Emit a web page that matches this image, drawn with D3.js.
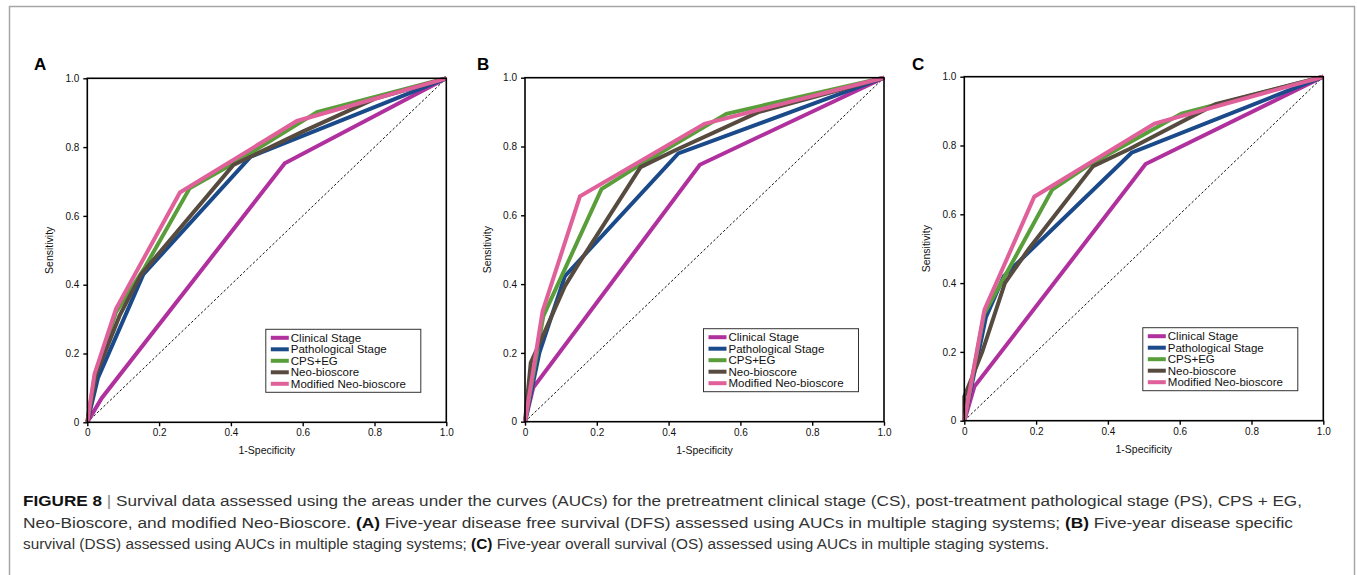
<!DOCTYPE html>
<meta charset="utf-8">
<style>
  body, html { margin:0; padding:0; background:#fff; }
  text { font-family: Arial, "Liberation Sans", Helvetica, sans-serif; }
  .tick text { font-size: 10px; fill:#111; }
  .caption { font-family: "Liberation Sans Narrow", "Arial Narrow", Arial, sans-serif; font-size: 14px; fill:#333; }
</style>
<body>
<svg id="fig" width="1357" height="575"></svg>
<script src="https://d3js.org/d3.v7.min.js"></script>
<script>
var svg = d3.select("#fig");

// series names and colours
var seriesNames = ["Clinical Stage", "Pathological Stage", "CPS+EG", "Neo-bioscore", "Modified Neo-bioscore"];
var seriesColors = ["#b0309e", "#1b4a8a", "#5a9e3b", "#574b40", "#e0609a"];
var tickValues = [0, 0.2, 0.4, 0.6, 0.8, 1.0];
var tickLabels = ["0", "0.2", "0.4", "0.6", "0.8", "1.0"];
var panelLabels = ["A", "B", "C"];

// panel A - five-year DFS  [1-specificity, sensitivity]
var dfsClinical = [[0,0],[0.04,0.07],[0.55,0.753],[1,1]];
var dfsPatho    = [[0,0],[0.03,0.13],[0.156,0.43],[0.455,0.772],[1,1]];
var dfsCps      = [[0,0],[0.02,0.13],[0.08,0.32],[0.16,0.45],[0.285,0.68],[0.42,0.76],[0.64,0.902],[1,1]];
var dfsNeo      = [[0,0],[0.025,0.14],[0.09,0.31],[0.15,0.43],[0.407,0.748],[0.6,0.845],[0.8,0.94],[1,1]];
var dfsMod      = [[0,0],[0.02,0.14],[0.08,0.33],[0.258,0.668],[0.584,0.876],[1,1]];

// panel B - five-year DSS
var dssClinical = [[0,0],[0.023,0.099],[0.487,0.747],[1,1]];
var dssPatho    = [[0,0],[0.04,0.2],[0.111,0.423],[0.427,0.78],[1,1]];
var dssCps      = [[0,0],[0.051,0.307],[0.213,0.676],[0.31,0.74],[0.561,0.895],[1,1]];
var dssNeo      = [[0,0],[0.016,0.171],[0.05,0.25],[0.111,0.394],[0.15,0.46],[0.322,0.74],[0.42,0.79],[0.65,0.9],[1,1]];
var dssMod      = [[0,0],[0.049,0.321],[0.153,0.655],[0.5,0.866],[1,1]];

// panel C - five-year OS
var osClinical = [[0,0],[0.028,0.099],[0.505,0.746],[1,1]];
var osPatho    = [[0,0],[0.06,0.3],[0.11,0.42],[0.466,0.779],[1,1]];
var osCps      = [[0,0],[0.055,0.31],[0.245,0.672],[0.35,0.745],[0.605,0.893],[1,1]];
var osNeo      = [[0,0],[0,0.07],[0.05,0.2],[0.113,0.4],[0.18,0.5],[0.359,0.74],[0.46,0.79],[0.7,0.92],[1,1]];
var osMod      = [[0,0],[0.056,0.322],[0.195,0.651],[0.53,0.864],[1,1]];

var panelData = [
  [dfsClinical, dfsPatho, dfsCps, dfsNeo, dfsMod],
  [dssClinical, dssPatho, dssCps, dssNeo, dssMod],
  [osClinical, osPatho, osCps, osNeo, osMod]
];

// outer frame
svg.append("path")
    .attr("d", "M9.5,575 V6.5 H1354.5 V575")
    .attr("fill", "none")
    .attr("stroke", "#a6a6a6")
    .attr("stroke-width", 1.5);

var plotW = 359, plotH = 344;
var lefts = [87.3, 525, 964.3];
var tops = [78.3, 77.7, 76.7];
var labelX = [34, 477, 912];

panelData.forEach(function(series, p) {
  var g = svg.append("g").attr("transform", "translate(" + lefts[p] + "," + tops[p] + ")");
  var x = d3.scaleLinear().domain([0, 1]).range([0, plotW]);
  var y = d3.scaleLinear().domain([0, 1]).range([plotH, 0]);

  // reference diagonal
  g.append("line")
      .attr("x1", x(0)).attr("y1", y(0))
      .attr("x2", x(1)).attr("y2", y(1))
      .attr("stroke", "#111")
      .attr("stroke-width", 1)
      .attr("stroke-dasharray", "2.5,2");

  var line = d3.line().x(function(d) { return x(d[0]); }).y(function(d) { return y(d[1]); });

  series.forEach(function(pts, i) {
    g.append("path")
        .datum(pts)
        .attr("fill", "none")
        .attr("stroke", seriesColors[i])
        .attr("stroke-width", 4)
        .attr("stroke-linejoin", "miter")
        .attr("d", line);
  });

  // plot box
  g.append("rect")
      .attr("width", plotW).attr("height", plotH)
      .attr("fill", "none").attr("stroke", "#000").attr("stroke-width", 1.6);

  var fmt = function(d) { return tickLabels[tickValues.indexOf(d)]; };
  var xAxis = g.append("g")
      .attr("transform", "translate(0," + plotH + ")")
      .call(d3.axisBottom(x).tickValues(tickValues).tickFormat(fmt).tickSize(4).tickPadding(3));
  var yAxis = g.append("g")
      .call(d3.axisLeft(y).tickValues(tickValues).tickFormat(fmt).tickSize(4).tickPadding(4));
  [xAxis, yAxis].forEach(function(a) {
    a.select(".domain").remove();
    a.selectAll(".tick line").attr("stroke", "#000").attr("stroke-width", 1.4);
    a.selectAll("text").style("font-family", "Arial, 'Liberation Sans', sans-serif");
  });

  g.append("text")
      .attr("x", plotW / 2).attr("y", plotH + 32)
      .attr("text-anchor", "middle")
      .style("font-size", "10.5px").attr("fill", "#111")
      .text("1-Specificity");
  g.append("text")
      .attr("transform", "translate(" + (-34) + "," + (plotH / 2) + ") rotate(-90)")
      .attr("text-anchor", "middle")
      .style("font-size", "10.5px").attr("fill", "#111")
      .text("Sensitivity");

  // legend
  var lg = g.append("g").attr("transform", "translate(178.5,251)");
  lg.append("rect")
      .attr("width", 155).attr("height", 63)
      .attr("fill", "#fff").attr("stroke", "#333").attr("stroke-width", 1);
  seriesNames.forEach(function(name, i) {
    var yy = 8.5 + i * 11.5;
    lg.append("line")
        .attr("x1", 5).attr("x2", 23).attr("y1", yy).attr("y2", yy)
        .attr("stroke", seriesColors[i]).attr("stroke-width", 4);
    lg.append("text")
        .attr("x", 25).attr("y", yy + 4)
        .style("font-size", "11.5px").attr("fill", "#111")
        .text(name);
  });

  svg.append("text")
      .attr("x", labelX[p]).attr("y", 70)
      .style("font-size", "17px").style("font-weight", "bold").attr("fill", "#000")
      .text(panelLabels[p]);
});

// caption
var captionLines = [
  [["b", "FIGURE 8"], ["n", " "], ["bar", "|"], ["n", " Survival data assessed using the areas under the curves (AUCs) for the pretreatment clinical stage (CS), post-treatment pathological stage (PS), CPS + EG,"]],
  [["n", "Neo-Bioscore, and modified Neo-Bioscore. "], ["b", "(A)"], ["n", " Five-year disease free survival (DFS) assessed using AUCs in multiple staging systems; "], ["b", "(B)"], ["n", " Five-year disease specific"]],
  [["n", "survival (DSS) assessed using AUCs in multiple staging systems; "], ["b", "(C)"], ["n", " Five-year overall survival (OS) assessed using AUCs in multiple staging systems."]]
];
var captionWidths = [1279, 1270, 1026];
captionLines.forEach(function(parts, i) {
  var t = svg.append("text")
      .attr("class", "caption")
      .attr("x", 23).attr("y", 506 + i * 21.5)
      .attr("textLength", captionWidths[i])
      .attr("lengthAdjust", "spacingAndGlyphs");
  parts.forEach(function(pt) {
    var s = t.append("tspan").text(pt[1]);
    if (pt[0] === "b") s.style("font-weight", "bold").attr("fill", "#111");
    if (pt[0] === "bar") s.attr("fill", "#888");
  });
});
</script>
</body>
